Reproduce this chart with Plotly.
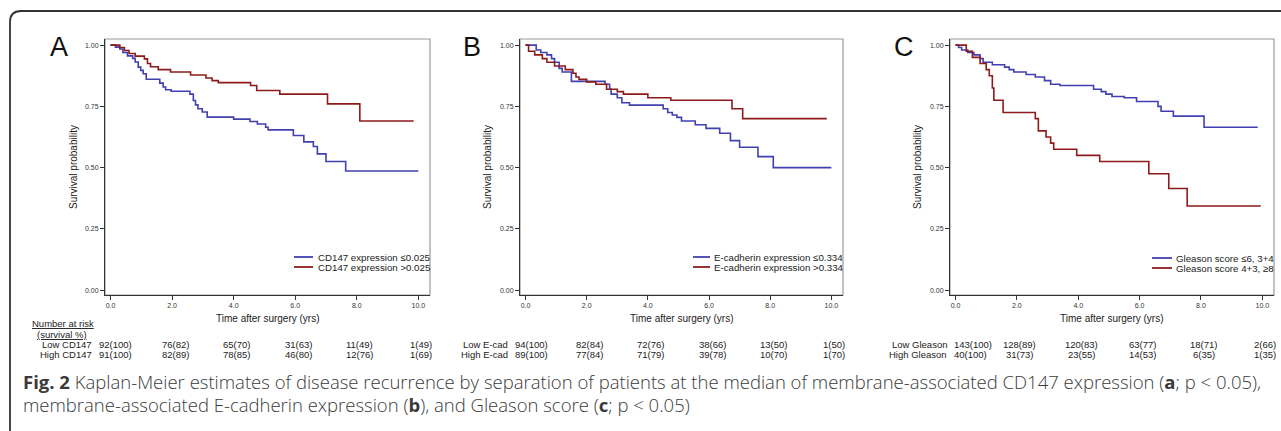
import plotly.graph_objects as go

W, H = 1281, 431

# ---------------- data ----------------
# Panel A: CD147
a_low_t = [0, 0.16, 0.3, 0.4, 0.55, 0.72, 0.8, 0.9, 0.98, 1.06, 1.16, 1.6, 1.71, 1.79, 1.97, 2.58, 2.69, 2.76, 2.84, 2.98, 3.14, 4.0, 4.53, 4.77, 5.04, 5.12, 5.94, 6.28, 6.59, 6.72, 7.0, 7.64, 10.0]
a_low_s = [1.0, 0.992, 0.984, 0.970, 0.956, 0.946, 0.931, 0.910, 0.897, 0.883, 0.861, 0.845, 0.829, 0.818, 0.812, 0.800, 0.774, 0.756, 0.740, 0.727, 0.706, 0.698, 0.688, 0.678, 0.665, 0.654, 0.631, 0.605, 0.586, 0.556, 0.525, 0.486, 0.486]
a_high_t = [0, 0.3, 0.45, 0.6, 0.8, 1.1, 1.2, 1.3, 1.55, 1.95, 2.6, 3.1, 3.3, 3.5, 4.55, 4.75, 5.5, 7.05, 8.1, 9.85]
a_high_s = [1.0, 0.99, 0.978, 0.966, 0.955, 0.944, 0.925, 0.912, 0.90, 0.89, 0.878, 0.866, 0.855, 0.847, 0.835, 0.815, 0.80, 0.76, 0.69, 0.69]

# Panel B: E-cadherin
b_low_t = [0, 0.35, 0.5, 0.7, 0.85, 0.95, 1.1, 1.2, 1.5, 2.6, 2.75, 2.8, 3.0, 3.15, 3.4, 4.5, 4.65, 4.8, 4.95, 5.1, 5.55, 5.9, 6.35, 6.7, 7.0, 7.6, 8.1, 10.0]
b_low_s = [1.0, 0.98, 0.97, 0.96, 0.945, 0.93, 0.905, 0.89, 0.852, 0.84, 0.82, 0.80, 0.785, 0.765, 0.755, 0.74, 0.725, 0.715, 0.705, 0.69, 0.675, 0.66, 0.64, 0.61, 0.583, 0.545, 0.50, 0.50]
b_high_t = [0, 0.1, 0.3, 0.55, 0.7, 0.95, 1.3, 1.55, 1.65, 1.75, 2.0, 2.3, 2.65, 3.0, 3.2, 4.0, 4.75, 6.75, 7.1, 9.85]
b_high_s = [1.0, 0.975, 0.96, 0.945, 0.93, 0.915, 0.90, 0.885, 0.87, 0.86, 0.85, 0.84, 0.82, 0.81, 0.80, 0.785, 0.775, 0.74, 0.70, 0.70]

# Panel C: Gleason
c_low_t = [0, 0.1, 0.2, 0.4, 0.6, 0.8, 0.9, 1.2, 1.6, 1.75, 1.9, 2.3, 2.6, 2.9, 3.1, 3.4, 4.5, 4.75, 4.9, 5.1, 5.5, 5.9, 6.6, 6.7, 7.1, 8.1, 9.85]
c_low_s = [1.0, 0.99, 0.98, 0.97, 0.96, 0.945, 0.93, 0.92, 0.91, 0.90, 0.89, 0.88, 0.87, 0.855, 0.84, 0.835, 0.82, 0.81, 0.80, 0.79, 0.785, 0.77, 0.75, 0.73, 0.71, 0.665, 0.665]
c_high_t = [0, 0.35, 0.55, 0.8, 1.0, 1.1, 1.2, 1.25, 1.55, 2.6, 2.7, 2.95, 3.1, 3.2, 3.95, 4.7, 6.3, 6.95, 7.55, 9.95]
c_high_s = [1.0, 0.975, 0.95, 0.925, 0.9, 0.875, 0.825, 0.775, 0.725, 0.70, 0.65, 0.625, 0.60, 0.575, 0.55, 0.525, 0.475, 0.415, 0.343, 0.343]

legend_a = ["CD147 expression \u22640.025", "CD147 expression >0.025"]
legend_b = ["E-cadherin expression \u22640.334", "E-cadherin expression >0.334"]
legend_c = ["Gleason score \u22646, 3+4", "Gleason score 4+3, \u22658"]

risk_times = [0, 2, 4, 6, 8, 10]
a_low_n = [92, 76, 65, 31, 11, 1];   a_low_pct = [100, 82, 70, 63, 49, 49]
a_high_n = [91, 82, 78, 46, 12, 1];  a_high_pct = [100, 89, 85, 80, 76, 69]
b_low_n = [94, 82, 72, 38, 13, 1];   b_low_pct = [100, 84, 76, 66, 50, 50]
b_high_n = [89, 77, 71, 39, 10, 1];  b_high_pct = [100, 84, 79, 78, 70, 70]
c_low_n = [143, 128, 120, 63, 18, 2]; c_low_pct = [100, 89, 83, 77, 71, 66]
c_high_n = [40, 31, 23, 14, 6, 1];   c_high_pct = [100, 73, 55, 53, 35, 35]

row_labels_a = ["Low CD147", "High CD147"]
row_labels_b = ["Low E-cad", "High E-cad"]
row_labels_c = ["Low Gleason", "High Gleason"]

xticks = [0, 2, 4, 6, 8, 10]
yticks = [0, 0.25, 0.5, 0.75, 1.0]

# ---------------- style ----------------
BLUE = "#4040B0"
RED = "#8E1B1B"
FONT = "Liberation Sans, Arial, sans-serif"
DARK = "#222222"


def fx(p):
    return p / W


def fy(p):
    return 1 - p / H


panels = [
    dict(name="", box=(105, 430), letter="A", lx=59, ytx=73,
         low=(a_low_t, a_low_s), high=(a_high_t, a_high_s), leg=legend_a, leg_x=(294, 313, 316), leg_y=(257, 267),
         rows=row_labels_a, risk=[(a_low_n, a_low_pct), (a_high_n, a_high_pct)], lab_r=94),
    dict(name="2", box=(520, 843), letter="B", lx=472, ytx=487,
         low=(b_low_t, b_low_s), high=(b_high_t, b_high_s), leg=legend_b, leg_x=(693, 710, 712), leg_y=(257, 267),
         rows=row_labels_b, risk=[(b_low_n, b_low_pct), (b_high_n, b_high_pct)], lab_r=510),
    dict(name="3", box=(950, 1274), letter="C", lx=904, ytx=917,
         low=(c_low_t, c_low_s), high=(c_high_t, c_high_s), leg=legend_c, leg_x=(1152, 1172, 1174), leg_y=(258, 268),
         rows=row_labels_c, risk=[(c_low_n, c_low_pct), (c_high_n, c_high_pct)], lab_r=949),
]

TOP, BOT = 39, 295

fig = go.Figure()
shapes = []
annotations = []

for p in panels:
    n = p["name"]
    xa, ya = "x" + n, "y" + n
    for (t, s), col in ((p["low"], BLUE), (p["high"], RED)):
        fig.add_trace(go.Scatter(x=t, y=s, mode="lines", line=dict(color=col, width=1.6, shape="hv"),
                                 xaxis=xa, yaxis=ya, showlegend=False, hoverinfo="skip"))
    axx = dict(domain=[fx(p["box"][0]), fx(p["box"][1])], range=[-0.18, 10.38], anchor=ya,
               tickvals=xticks, ticktext=["%.1f" % v for v in xticks], ticks="outside", ticklen=4,
               tickcolor="#333", tickwidth=1, showline=True, linecolor="#333", linewidth=1,
               showgrid=False, zeroline=False, tickfont=dict(family=FONT, size=7, color="#333"))
    axy = dict(domain=[fy(BOT), fy(TOP)], range=[-0.02, 1.025], anchor=xa,
               tickvals=yticks, ticktext=["%.2f" % v for v in yticks], ticks="outside", ticklen=4,
               tickcolor="#333", tickwidth=1, showline=True, linecolor="#333", linewidth=1,
               showgrid=False, zeroline=False, tickfont=dict(family=FONT, size=7, color="#333"))
    fig.update_layout(**{"xaxis" + n: axx, "yaxis" + n: axy})

    # grey panel border (top/right)
    shapes.append(dict(type="rect", xref=xa + " domain", yref=ya + " domain", x0=0, x1=1, y0=0, y1=1,
                       line=dict(color="#9a9a9a", width=1.2), layer="below"))

    # panel letter
    annotations.append(dict(text=p["letter"], x=fx(p["lx"]), y=fy(47), xref="paper", yref="paper",
                            showarrow=False, xanchor="center", yanchor="middle",
                            font=dict(family=FONT, size=27, color="#111")))
    # y title
    annotations.append(dict(text="Survival probability", x=fx(p["ytx"]), y=fy((TOP + BOT) / 2),
                            xref="paper", yref="paper", showarrow=False, textangle=-90,
                            xanchor="center", yanchor="middle", font=dict(family=FONT, size=10, color=DARK)))
    # x title
    annotations.append(dict(text="Time after surgery (yrs)", x=fx((p["box"][0] + p["box"][1]) / 2), y=fy(318),
                            xref="paper", yref="paper", showarrow=False, xanchor="center", yanchor="middle",
                            font=dict(family=FONT, size=10, color=DARK)))
    # legend
    for i, (lab, col) in enumerate(zip(p["leg"], (BLUE, RED))):
        yy = p["leg_y"][i]
        shapes.append(dict(type="line", xref="paper", yref="paper", x0=fx(p["leg_x"][0]), x1=fx(p["leg_x"][1]),
                           y0=fy(yy), y1=fy(yy), line=dict(color=col, width=1.8)))
        annotations.append(dict(text=lab, x=fx(p["leg_x"][2]), y=fy(yy), xref="paper", yref="paper",
                                showarrow=False, xanchor="left", yanchor="middle",
                                font=dict(family=FONT, size=9.7, color=DARK)))
    # risk table
    for i, (rl, (nn, pc)) in enumerate(zip(p["rows"], p["risk"])):
        yy = 344 + 10 * i
        annotations.append(dict(text=rl, x=fx(p["lab_r"]), y=fy(yy), xref="paper", yref="paper",
                                showarrow=False, xanchor="right", yanchor="middle",
                                font=dict(family=FONT, size=9.5, color=DARK)))
        for j, (t, nv, pv) in enumerate(zip(risk_times, nn, pc)):
            txt = "%d(%d)" % (nv, pv)
            if j == 0:
                annotations.append(dict(text=txt, x=fx(p["lab_r"] + 3), y=fy(yy), xref="paper", yref="paper",
                                        showarrow=False, xanchor="left", yanchor="middle",
                                        font=dict(family=FONT, size=9.5, color=DARK)))
            else:
                annotations.append(dict(text=txt, x=t, y=fy(yy), xref=xa, yref="paper", xshift=3,
                                        showarrow=False, xanchor="center", yanchor="middle",
                                        font=dict(family=FONT, size=9.5, color=DARK)))

# risk header
annotations.append(dict(text="<span style='text-decoration:underline'>Number at risk</span>", x=fx(30), y=fy(323),
                        xref="paper", yref="paper", showarrow=False, xanchor="left", yanchor="middle",
                        font=dict(family=FONT, size=9.5, color=DARK)))
annotations.append(dict(text="<span style='text-decoration:underline'>(survival %)</span>", x=fx(35), y=fy(334),
                        xref="paper", yref="paper", showarrow=False, xanchor="left", yanchor="middle",
                        font=dict(family=FONT, size=9.5, color=DARK)))

# caption
CAP = "Open Sans, Noto Sans, sans-serif"
cap1 = ("<b>Fig. 2</b> Kaplan-Meier estimates of disease recurrence by separation of patients at the median of "
        "membrane-associated CD147 expression (<b>a</b>; p &lt; 0.05),")
cap2 = "membrane-associated E-cadherin expression (<b>b</b>), and Gleason score (<b>c</b>; p &lt; 0.05)"
annotations.append(dict(text=cap1, x=fx(21), y=fy(381), xref="paper", yref="paper", showarrow=False,
                        xanchor="left", yanchor="middle",
                        font=dict(family=CAP, size=18.5, color="#3a3a3a", weight=300)))
annotations.append(dict(text=cap2, x=fx(21), y=fy(404), xref="paper", yref="paper", showarrow=False,
                        xanchor="left", yanchor="middle",
                        font=dict(family=CAP, size=18.5, color="#3a3a3a", weight=300)))

# outer rounded frame
r = 11
x0p, y0p = 10, 11
path = "M %f,%f L %f,%f Q %f,%f %f,%f L %f,%f" % (
    fx(x0p), fy(H + 5), fx(x0p), fy(y0p + r), fx(x0p), fy(y0p), fx(x0p + r), fy(y0p), fx(W + 5), fy(y0p))
shapes.append(dict(type="path", xref="paper", yref="paper", path=path, line=dict(color="#333", width=1.8)))

fig.update_layout(width=W, height=H, margin=dict(l=0, r=0, t=0, b=0), paper_bgcolor="white",
                  plot_bgcolor="white", shapes=shapes, annotations=annotations, showlegend=False)

fig.write_html("out.html", post_script="document.body.style.margin='0px';",
               config={"displayModeBar": False})
